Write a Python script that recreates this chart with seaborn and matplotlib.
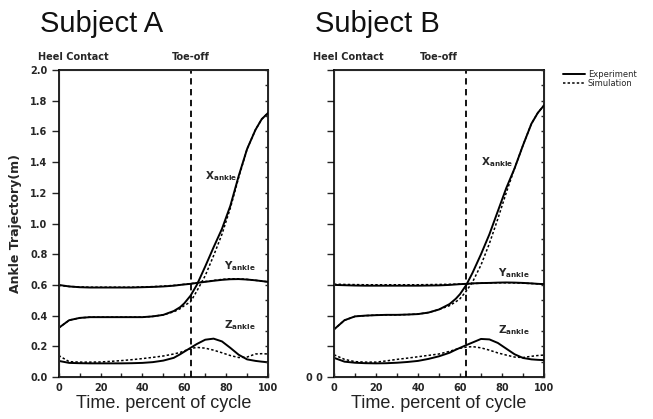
import numpy as np
import pandas as pd
import seaborn as sns
import matplotlib.pyplot as plt
from matplotlib.lines import Line2D
from matplotlib.ticker import MultipleLocator

# Time, percent of gait cycle
time = [0, 5, 10, 15, 20, 25, 30, 35, 40, 45, 50, 55, 58, 60, 63, 66,
        70, 74, 78, 82, 86, 90, 94, 97, 100]
toe_off = 63

# Subject A - ankle trajectory (m)
xA_exp = [0.32, 0.37, 0.385, 0.39, 0.39, 0.39, 0.39, 0.39, 0.39, 0.395, 0.405, 0.43, 0.455, 0.48, 0.53, 0.60,
          0.72, 0.845, 0.965, 1.115, 1.31, 1.485, 1.61, 1.68, 1.72]
xA_sim = [0.32, 0.37, 0.385, 0.39, 0.39, 0.39, 0.39, 0.39, 0.39, 0.395, 0.405, 0.425, 0.445, 0.465, 0.49, 0.56,
          0.66, 0.79, 0.93, 1.10, 1.30, 1.485, 1.61, 1.68, 1.72]
yA_exp = [0.60, 0.59, 0.585, 0.583, 0.583, 0.583, 0.583, 0.583, 0.585, 0.587, 0.59, 0.595, 0.60, 0.603, 0.607, 0.613,
          0.62, 0.627, 0.633, 0.637, 0.638, 0.635, 0.63, 0.625, 0.62]
yA_sim = [0.597, 0.59, 0.587, 0.585, 0.585, 0.585, 0.585, 0.585, 0.587, 0.589, 0.592, 0.597, 0.601, 0.604, 0.608, 0.614,
          0.622, 0.629, 0.636, 0.64, 0.64, 0.636, 0.63, 0.625, 0.62]
zA_exp = [0.105, 0.092, 0.09, 0.089, 0.089, 0.089, 0.089, 0.09, 0.092, 0.097, 0.107, 0.125, 0.148, 0.165, 0.19, 0.215,
          0.243, 0.25, 0.232, 0.19, 0.145, 0.115, 0.105, 0.10, 0.096]
zA_sim = [0.14, 0.10, 0.097, 0.097, 0.098, 0.102, 0.107, 0.113, 0.12, 0.128, 0.137, 0.15, 0.16, 0.17, 0.185, 0.193,
          0.188, 0.175, 0.158, 0.14, 0.127, 0.13, 0.15, 0.152, 0.15]

# Subject B - ankle trajectory (m)
xB_exp = [0.31, 0.37, 0.395, 0.40, 0.403, 0.405, 0.405, 0.407, 0.41, 0.42, 0.44, 0.475, 0.51, 0.54, 0.60, 0.68,
          0.80, 0.93, 1.08, 1.23, 1.36, 1.51, 1.65, 1.72, 1.77]
xB_sim = [0.31, 0.37, 0.395, 0.40, 0.403, 0.405, 0.405, 0.407, 0.41, 0.42, 0.44, 0.465, 0.49, 0.51, 0.56, 0.62,
          0.73, 0.87, 1.03, 1.20, 1.36, 1.51, 1.65, 1.72, 1.77]
yB_exp = [0.60, 0.598, 0.596, 0.595, 0.595, 0.595, 0.595, 0.595, 0.595, 0.596, 0.597, 0.60, 0.603, 0.605, 0.607, 0.61,
          0.612, 0.613, 0.615, 0.616, 0.615, 0.613, 0.61, 0.607, 0.605]
yB_sim = [0.605, 0.603, 0.602, 0.601, 0.601, 0.601, 0.601, 0.601, 0.601, 0.602, 0.603, 0.604, 0.605, 0.606, 0.607, 0.609,
          0.611, 0.613, 0.614, 0.614, 0.613, 0.611, 0.609, 0.607, 0.605]
zB_exp = [0.125, 0.10, 0.093, 0.09, 0.089, 0.09, 0.093, 0.098, 0.105, 0.118, 0.135, 0.158, 0.178, 0.19, 0.208, 0.225,
          0.248, 0.245, 0.222, 0.185, 0.148, 0.124, 0.115, 0.112, 0.11]
zB_sim = [0.145, 0.115, 0.10, 0.097, 0.097, 0.105, 0.115, 0.123, 0.132, 0.141, 0.15, 0.167, 0.18, 0.187, 0.195, 0.198,
          0.19, 0.175, 0.157, 0.143, 0.13, 0.127, 0.135, 0.14, 0.143]

subjects = ["Subject A", "Subject B"]
series_labels = ["Experiment", "Simulation"]

sns.set_style("ticks")
plt.rcParams['font.family'] = ['DejaVu Sans']

fig = plt.figure(figsize=(6.53, 4.19), dpi=100)
ax1 = fig.add_axes([0.0899, 0.1002, 0.3205, 0.7327])
ax2 = fig.add_axes([0.5115, 0.1002, 0.3216, 0.7327])

sim_style = (0, (1.6, 1.4))
exp_data = {ax1: [xA_exp, yA_exp, zA_exp], ax2: [xB_exp, yB_exp, zB_exp]}
sim_data = {ax1: [xA_sim, yA_sim, zA_sim], ax2: [xB_sim, yB_sim, zB_sim]}

for ax in [ax1, ax2]:
    for vals in exp_data[ax]:
        sns.lineplot(x=time, y=vals, ax=ax, color='black', lw=1.4)
    for vals in sim_data[ax]:
        sns.lineplot(x=time, y=vals, ax=ax, color='black', lw=1.1, linestyle=sim_style)
    ax.axvline(toe_off, color='black', lw=1.3, linestyle=(0, (3.5, 2.5)))

    ax.set_xlim(0, 100)
    ax.set_ylim(0, 2.0)
    ax.set_xticks(range(0, 101, 20))
    ax.set_xticklabels([str(v) for v in range(0, 101, 20)], fontweight='bold', fontsize=7)
    ax.xaxis.set_minor_locator(MultipleLocator(10))
    ax.tick_params(axis='x', which='both', direction='in', length=3, width=1, pad=4)
    ax.set_yticks(np.arange(0, 2.01, 0.2))
    ax.tick_params(axis='y', direction='out', length=5, width=1, pad=3)
    for s in ax.spines.values():
        s.set_linewidth(1.2)
        s.set_color('black')
    ax.set_xlabel("Time. percent of cycle", family='Liberation Sans', fontsize=13,
                  color='#222222', labelpad=2)

    # right-hand spine ticks
    tw = ax.twinx()
    tw.set_ylim(0, 2.0)
    tw.yaxis.set_major_locator(MultipleLocator(0.1))
    tw.tick_params(axis='y', direction='in', length=2.5, width=1, labelright=False)
    tw.grid(False)

ax1.set_yticklabels([f"{v:.1f}" for v in np.arange(0, 2.01, 0.2)], fontweight='bold', fontsize=7)
ax1.set_ylabel("Ankle Trajectory(m)", fontweight='bold', fontsize=9, labelpad=6)
ax2.set_yticklabels(["0 0"] + [""] * 10, fontweight='bold', fontsize=7)
ax2.set_ylabel("")

# titles and event labels
for ax, name in zip([ax1, ax2], subjects):
    ax.text(-0.09, 1.125, name, transform=ax.transAxes, family='Liberation Sans',
            fontsize=21, va='baseline', ha='left', color='#111111')
    ax.text(-10, 2.085, "Heel Contact", fontsize=7, fontweight='bold', ha='left', va='center', clip_on=False)
ax1.text(toe_off, 2.085, "Toe-off", fontsize=7, fontweight='bold', ha='center', va='center', clip_on=False)
ax2.text(50, 2.085, "Toe-off", fontsize=7, fontweight='bold', ha='center', va='center', clip_on=False)

# curve labels
lab_kw = dict(fontsize=7.5, ha='left', va='center')
ax1.text(70, 1.31, r'$\mathbf{X_{ankle}}$', **lab_kw)
ax1.text(79, 0.72, r'$\mathbf{Y_{ankle}}$', **lab_kw)
ax1.text(79, 0.34, r'$\mathbf{Z_{ankle}}$', **lab_kw)
ax2.text(70, 1.40, r'$\mathbf{X_{ankle}}$', **lab_kw)
ax2.text(78, 0.68, r'$\mathbf{Y_{ankle}}$', **lab_kw)
ax2.text(78, 0.305, r'$\mathbf{Z_{ankle}}$', **lab_kw)

handles = [Line2D([], [], color='black', lw=1.4),
           Line2D([], [], color='black', lw=1.1, linestyle=sim_style)]
fig.legend(handles, series_labels, loc='upper left', bbox_to_anchor=(0.862, 0.832),
           frameon=False, fontsize=6, handlelength=2.7, handletextpad=0.3,
           labelspacing=0.0, borderpad=0, borderaxespad=0)

fig.savefig("out.png", dpi=100)
